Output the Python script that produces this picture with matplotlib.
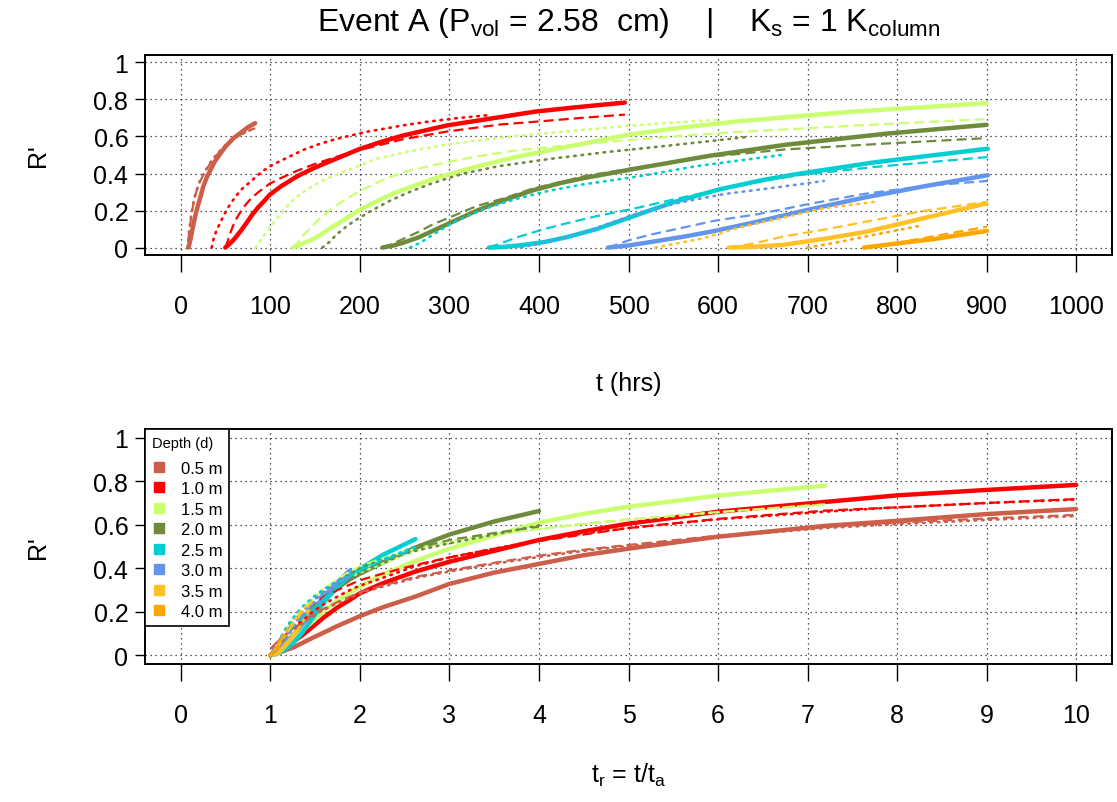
import matplotlib
matplotlib.use('Agg')
import matplotlib.pyplot as plt
from matplotlib import font_manager
from matplotlib.lines import Line2D
import numpy as np


def pick_font(names):
    for name in names:
        try:
            font_manager.findfont(name, fallback_to_default=False)
            return name
        except Exception:
            pass
    return 'DejaVu Sans'


FONT = pick_font(['Liberation Sans', 'DejaVu Sans'])
plt.rcParams['font.family'] = [FONT, 'DejaVu Sans']
plt.rcParams['mathtext.default'] = 'regular'

# ---------------- data ----------------
DEPTH_LABELS = ['0.5 m', '1.0 m', '1.5 m', '2.0 m', '2.5 m', '3.0 m', '3.5 m', '4.0 m']
COLORS = ['#CD5E4A', '#FF0000', '#CAFF70', '#6E8B3D', '#00CED1', '#6495ED', '#FFC125', '#FFA500']

# relative time grid t/ta
TR = [1.0, 1.05, 1.1, 1.18, 1.25, 1.35, 1.47, 1.6, 1.75, 1.89, 2.0, 2.25, 2.62,
      3.0, 3.5, 4.0, 4.5, 5.0, 6.0, 7.2, 8.0, 9.0, 10.0]

# arrival times (hrs) for solid/dashed curves and for dotted curves
TA_SOLID = [8.3, 49.6, 125, 225, 344, 477, 612, 763]
TA_DOT = [8.0, 34.5, 83.5, 158, 256, 380, 530, 700]

R_SOLID_05 = [0, 0.005, 0.012, 0.025, 0.035, 0.055, 0.08, 0.105, 0.135, 0.16, 0.18, 0.22, 0.27,
              0.328, 0.38, 0.42, 0.46, 0.49, 0.545, 0.595, 0.618, 0.649, 0.672]
R_DASH_05 = [0.03, 0.05, 0.07, 0.10, 0.12, 0.15, 0.185, 0.215, 0.245, 0.27, 0.29, 0.32, 0.36,
             0.39, 0.425, 0.458, 0.485, 0.507, 0.55, 0.59, 0.61, 0.629, 0.645]
R_DOT_05 = [0.0, 0.04, 0.065, 0.095, 0.115, 0.145, 0.18, 0.21, 0.24, 0.265, 0.285, 0.315, 0.355,
            0.385, 0.42, 0.452, 0.48, 0.503, 0.545, 0.585, 0.603, 0.622, 0.64]

R_SOLID_10 = [0, 0.01, 0.02, 0.04, 0.06, 0.09, 0.13, 0.175, 0.22, 0.255, 0.285, 0.33, 0.385,
              0.43, 0.48, 0.53, 0.57, 0.605, 0.66, 0.705, 0.735, 0.76, 0.783]
R_DASH_10 = [0, 0.03, 0.07, 0.12, 0.155, 0.195, 0.235, 0.27, 0.30, 0.325, 0.345, 0.375, 0.415,
             0.45, 0.49, 0.525, 0.555, 0.585, 0.627, 0.665, 0.68, 0.70, 0.718]
R_DOT_10 = [0, 0.04, 0.07, 0.10, 0.125, 0.16, 0.2, 0.235, 0.27, 0.30, 0.32, 0.355, 0.41,
            0.45, 0.49, 0.53, 0.56, 0.585, 0.625, 0.66, 0.68, 0.70, 0.716]

R_SOLID_15 = [0, 0.01, 0.025, 0.045, 0.07, 0.11, 0.155, 0.205, 0.25, 0.29, 0.315, 0.37, 0.434,
              0.49, 0.55, 0.61, 0.65, 0.683, 0.734, 0.78]
R_DASH_15 = [0, 0.03, 0.07, 0.12, 0.16, 0.21, 0.26, 0.305, 0.35, 0.385, 0.41, 0.445, 0.49,
             0.525, 0.555, 0.58, 0.605, 0.625, 0.658, 0.694]
R_DOT_15 = [0, 0.03, 0.06, 0.10, 0.14, 0.19, 0.245, 0.29, 0.33, 0.36, 0.38, 0.42, 0.48,
            0.515, 0.553, 0.58, 0.603, 0.622, 0.658, 0.692]

R_SOLID_20 = [0, 0.01, 0.025, 0.055, 0.09, 0.14, 0.2, 0.255, 0.31, 0.35, 0.375, 0.425, 0.495,
              0.555, 0.615, 0.663]
R_DASH_20 = [0, 0.02, 0.045, 0.085, 0.125, 0.17, 0.225, 0.265, 0.32, 0.355, 0.385, 0.43, 0.49,
             0.53, 0.562, 0.591]
R_DOT_20 = [0, 0.03, 0.07, 0.12, 0.155, 0.2, 0.25, 0.295, 0.34, 0.375, 0.4, 0.44, 0.48,
            0.515, 0.555, 0.597]

R_SOLID_25 = [0, 0.004, 0.012, 0.03, 0.055, 0.1, 0.17, 0.245, 0.315, 0.365, 0.397, 0.46, 0.534]
R_DASH_25 = [0, 0.03, 0.06, 0.1, 0.13, 0.17, 0.21, 0.26, 0.315, 0.36, 0.39, 0.435, 0.489]
R_DOT_25 = [0, 0.03, 0.07, 0.13, 0.17, 0.22, 0.265, 0.305, 0.34, 0.365, 0.385, 0.44, 0.5]

R_SOLID_30 = [0, 0.012, 0.03, 0.06, 0.09, 0.14, 0.205, 0.27, 0.335, 0.391]
R_DASH_30 = [0, 0.04, 0.07, 0.11, 0.145, 0.18, 0.235, 0.29, 0.335, 0.36]
R_DOT_30 = [0, 0.02, 0.04, 0.08, 0.125, 0.19, 0.245, 0.29, 0.325, 0.36]

R_SOLID_35 = [0, 0.005, 0.015, 0.05, 0.085, 0.155, 0.238]
R_DASH_35 = [0, 0.025, 0.06, 0.10, 0.14, 0.195, 0.247]
R_DOT_35 = [0, 0.025, 0.05, 0.11, 0.15, 0.21, 0.25]

R_SOLID_40 = [0, 0.023, 0.045, 0.09]
R_DASH_40 = [0, 0.027, 0.06, 0.113]
R_DOT_40 = [0, 0.03, 0.065, 0.118]

X_TICKS_TOP = [0, 100, 200, 300, 400, 500, 600, 700, 800, 900, 1000]
X_TICKS_BOT = [0, 1, 2, 3, 4, 5, 6, 7, 8, 9, 10]
Y_TICKS = [0, 0.2, 0.4, 0.6, 0.8, 1]
Y_TICK_LABELS = ['0', '0.2', '0.4', '0.6', '0.8', '1']

SOLID = [R_SOLID_05, R_SOLID_10, R_SOLID_15, R_SOLID_20, R_SOLID_25, R_SOLID_30, R_SOLID_35, R_SOLID_40]
DASH = [R_DASH_05, R_DASH_10, R_DASH_15, R_DASH_20, R_DASH_25, R_DASH_30, R_DASH_35, R_DASH_40]
DOT = [R_DOT_05, R_DOT_10, R_DOT_15, R_DOT_20, R_DOT_25, R_DOT_30, R_DOT_35, R_DOT_40]

# ---------------- figure ----------------
W, H = 1117, 803
fig = plt.figure(figsize=(W / 100, H / 100), dpi=100)
ax1 = fig.add_axes([145 / W, 1 - 256 / H, 967 / W, 200 / H])
ax2 = fig.add_axes([145 / W, 1 - 665 / H, 967 / W, 235 / H])

DASH_STYLE = (0, (4.5, 2.3))
DOT_STYLE = (0, (0.6, 2.2))

for i in range(len(DEPTH_LABELS)):
    c = COLORS[i]
    n = len(SOLID[i])
    tr = np.array(TR[:n])
    # top: absolute time
    ax1.plot(tr * TA_SOLID[i], SOLID[i], color=c, lw=3.2, solid_capstyle='round', zorder=3)
    ax1.plot(tr * TA_SOLID[i], DASH[i], color=c, lw=1.6, linestyle=DASH_STYLE, zorder=4)
    ax1.plot(tr * TA_DOT[i], DOT[i], color=c, lw=1.9, linestyle=DOT_STYLE,
             dash_capstyle='round', zorder=4)
    # bottom: relative time
    ax2.plot(tr, SOLID[i], color=c, lw=3.2, solid_capstyle='round', zorder=3)
    ax2.plot(tr, DASH[i], color=c, lw=1.6, linestyle=DASH_STYLE, zorder=4)
    ax2.plot(tr, DOT[i], color=c, lw=1.9, linestyle=DOT_STYLE, dash_capstyle='round', zorder=4)

for ax, xt, xlim in [(ax1, X_TICKS_TOP, (-40, 1040)), (ax2, X_TICKS_BOT, (-0.4, 10.4))]:
    ax.set_xlim(*xlim)
    ax.set_ylim(-0.04, 1.04)
    ax.set_xticks(xt)
    ax.set_xticklabels([str(v) for v in xt])
    ax.set_yticks(Y_TICKS)
    ax.set_yticklabels(Y_TICK_LABELS)
    ax.set_axisbelow(True)
    ax.grid(True, color='#222222', linestyle=(0, (1, 3)), lw=0.9)
    for sp in ax.spines.values():
        sp.set_linewidth(1.4)
        sp.set_color('black')
    ax.tick_params(axis='x', length=12, width=1.0, pad=16, labelsize=18)
    ax.tick_params(axis='y', length=7, width=1.0, pad=5, labelsize=18)
    ax.set_ylabel("R'", fontsize=18)
    ax.yaxis.set_label_coords(-0.098, 0.5)

ax1.set_xlabel('t (hrs)', fontsize=18)
ax1.xaxis.set_label_coords(0.5, -0.58)
ax2.set_xlabel(r'$t_r$ = t/$t_a$', fontsize=18)
ax2.xaxis.set_label_coords(0.5, -0.413)

fig.text(628.5 / W, 1 - 23 / H,
         r'Event A (P$_{vol}$ = 2.58  cm)    |    K$_s$ = 1 K$_{column}$',
         ha='center', va='center', fontsize=23)

handles = [Line2D([], [], marker='s', linestyle='none', color=c, markersize=7.5) for c in COLORS]
leg = ax2.legend(handles, DEPTH_LABELS, title='Depth (d)', loc='upper left',
                 bbox_to_anchor=(0, 1), borderaxespad=0, fancybox=False,
                 edgecolor='black', framealpha=1, handlelength=0.9,
                 handletextpad=0.85, alignment='left', labelspacing=0.33,
                 prop={'size': 12}, title_fontproperties={'size': 10.5})
leg.get_frame().set_linewidth(1.2)
leg.set_zorder(10)
try:
    leg._legend_box.sep = 8
except Exception:
    pass

fig.savefig('out.png', dpi=100)
